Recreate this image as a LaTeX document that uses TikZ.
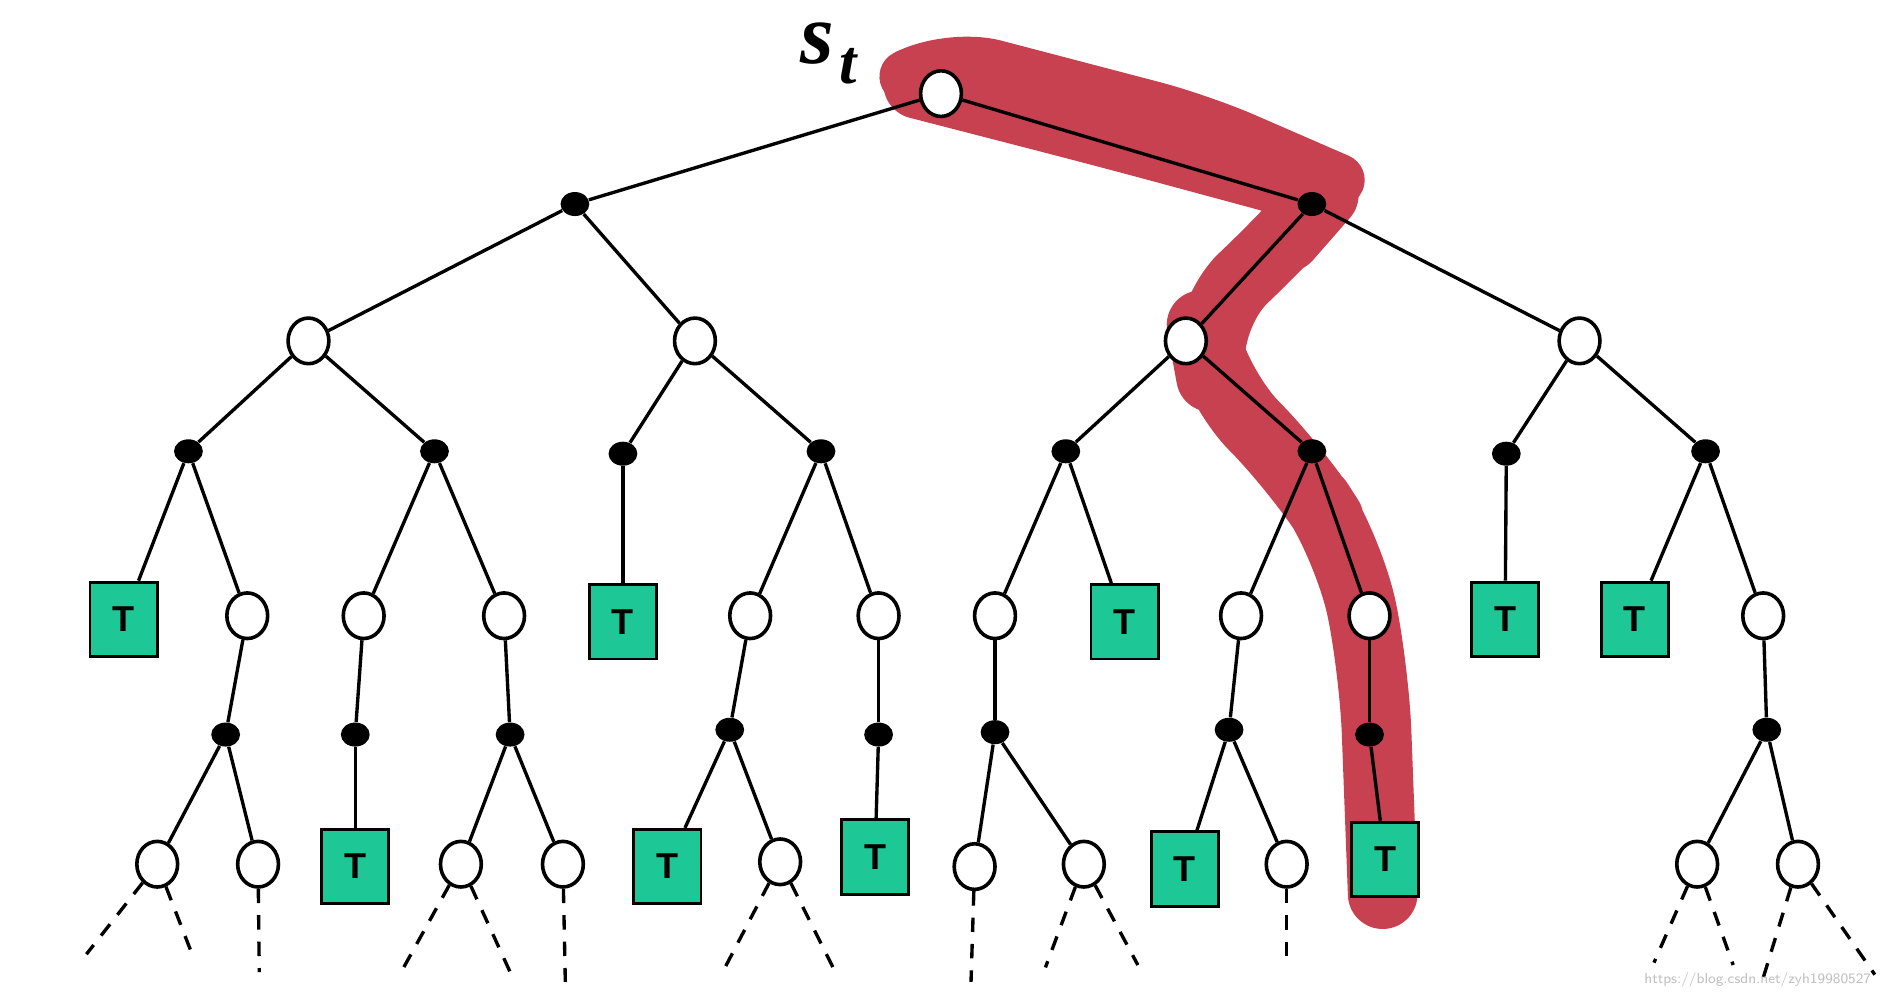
\documentclass[tikz,border=0pt]{standalone}
\usepackage{fontspec}
\newfontfamily\sansb{Liberation Sans}
\newfontfamily\serifbi{Liberation Serif}
\usetikzlibrary{shapes.geometric}
\definecolor{hl}{RGB}{200,65,80}
\definecolor{tg}{RGB}{30,200,150}
\begin{document}
\begin{tikzpicture}[x=0.5pt,y=-0.5pt,
 dec/.style={ellipse,draw,line width=1.5pt,fill=white,minimum width=17pt,minimum height=19pt,inner sep=0pt},
 ch/.style={ellipse,fill=black,minimum width=12pt,minimum height=10pt,inner sep=0pt},
 term/.style={rectangle,draw,line width=1.2pt,fill=tg,minimum width=28pt,minimum height=31pt,inner sep=0pt,font=\sansb\bfseries\fontsize{15}{15}\selectfont},
 ed/.style={line width=1.4pt},
 da/.style={line width=1.4pt,dash pattern=on 6pt off 5pt}]
\useasboundingbox (0,0) rectangle (1568,830);
% highlight
\draw[hl,line width=29pt,line cap=round,line join=round,rounded corners=25pt]
 (765,70) -- (920,110) -- (1105,160) -- (1070,200) -- (1000,265) -- (1010,320) -- (1080,390) -- (1125,460) -- (1145,560) -- (1152,745);
\draw[hl,line width=22pt,line cap=round,line join=round,rounded corners=20pt]
 (758,62) -- (790,45) -- (1000,100) -- (1115,150);
% tree
\node[dec] (r) at (784,78) {};
\node[font=\serifbi\bfseries\itshape\fontsize{36}{36}\selectfont,inner sep=0pt] (lab) at (681,36) {s};
\node[font=\serifbi\bfseries\itshape\fontsize{26}{26}\selectfont,inner sep=0pt] (lab2) at (707,55) {t};
\node[ch] (c1) at (479,170) {}; \node[ch] (c2) at (1093,170) {};
\node[dec] (d1) at (257,284) {}; \node[dec] (d2) at (579,284) {};
\node[dec] (d3) at (988,284) {}; \node[dec] (d4) at (1316,284) {};
\node[ch] (e1) at (157,376) {}; \node[ch] (e2) at (362,376) {};
\node[ch] (e3) at (519,378) {}; \node[ch] (e4) at (684,376) {};
\node[ch] (e5) at (888,376) {}; \node[ch] (e6) at (1093,376) {};
\node[ch] (e7) at (1255,378) {}; \node[ch] (e8) at (1421,376) {};
\node[term] (f1) at (103,516) {T}; \node[dec] (f2) at (206,513) {};
\node[dec] (f3) at (303,513) {}; \node[dec] (f4) at (420,513) {};
\node[term] (f5) at (519,518) {T}; \node[dec] (f6) at (625,513) {};
\node[dec] (f7) at (732,513) {}; \node[dec] (f8) at (829,513) {};
\node[term] (f9) at (937,518) {T}; \node[dec] (f10) at (1034,513) {};
\node[dec] (f11) at (1141,513) {}; \node[term] (f12) at (1254,516) {T};
\node[term] (f13) at (1362,516) {T}; \node[dec] (f14) at (1469,513) {};
\node[ch] (g1) at (188,612) {}; \node[ch] (g2) at (296,612) {};
\node[ch] (g3) at (425,612) {}; \node[ch] (g4) at (608,608) {};
\node[ch] (g5) at (732,612) {}; \node[ch] (g6) at (829,610) {};
\node[ch] (g7) at (1024,608) {}; \node[ch] (g8) at (1141,612) {};
\node[ch] (g9) at (1472,608) {};
\node[dec] (h1) at (131,720) {}; \node[dec] (h2) at (215,720) {};
\node[term] (h3) at (296,722) {T};
\node[dec] (h4) at (384,720) {}; \node[dec] (h5) at (469,720) {};
\node[term] (h6) at (556,722) {T}; \node[dec] (h7) at (650,718) {};
\node[term] (h8) at (729,714) {T};
\node[dec] (h9) at (812,722) {}; \node[dec] (h10) at (903,720) {};
\node[term] (h11) at (987,724) {T}; \node[dec] (h12) at (1072,720) {};
\node[term] (h13) at (1154,716) {T};
\node[dec] (h14) at (1414,720) {}; \node[dec] (h15) at (1498,720) {};
\foreach \a/\b in {r/c1,r/c2,c1/d1,c1/d2,c2/d3,c2/d4,d1/e1,d1/e2,d2/e3,d2/e4,d3/e5,d3/e6,d4/e7,d4/e8,
 e1/f1,e1/f2,e2/f3,e2/f4,e3/f5,e4/f6,e4/f7,e5/f8,e5/f9,e6/f10,e6/f11,e7/f12,e8/f13,e8/f14,
 f2/g1,f3/g2,f4/g3,f6/g4,f7/g5,f8/g6,f10/g7,f11/g8,f14/g9,
 g1/h1,g1/h2,g2/h3,g3/h4,g3/h5,g4/h6,g4/h7,g5/h8,g6/h9,g6/h10,g7/h11,g7/h12,g8/h13,g9/h14,g9/h15}
 \draw[ed] (\a) -- (\b);
% dashed continuations
\coordinate (k1) at (72,795); \coordinate (k2) at (162,800); \coordinate (k3) at (216,810);
\coordinate (k4) at (333,812); \coordinate (k5) at (426,812); \coordinate (k6) at (471,818);
\coordinate (k7) at (602,810); \coordinate (k8) at (695,808); \coordinate (k9) at (809,818);
\coordinate (k10) at (871,806); \coordinate (k11) at (948,804); \coordinate (k12) at (1072,806);
\coordinate (k13) at (1378,802); \coordinate (k14) at (1444,804); \coordinate (k15) at (1468,818);
\coordinate (k16) at (1562,812);
\foreach \a/\b in {h1/k1,h1/k2,h2/k3,h4/k4,h4/k5,h5/k6,h7/k7,h7/k8,h9/k9,h10/k10,h10/k11,h12/k12,h14/k13,h14/k14,h15/k15,h15/k16}
 \draw[da] (\a) -- (\b);
\node[text=black!25,font=\sffamily\fontsize{6}{6}\selectfont,anchor=east] (wm) at (1566,816) {https://blog.csdn.net/zyh19980527};
\end{tikzpicture}
\end{document}
